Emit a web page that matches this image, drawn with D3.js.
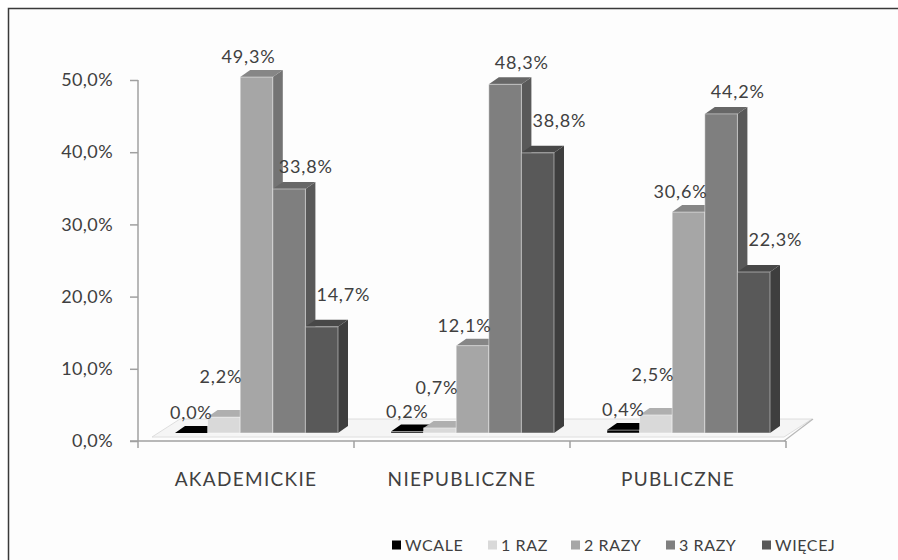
<!DOCTYPE html>
<html>
<head>
<meta charset="utf-8">
<title>3D column chart</title>
<script src="https://d3js.org/d3.v7.min.js"></script>
<style>
    body { margin: 0; background: #fff; }
    text { font-family: Lato, "Open Sans", sans-serif; fill: #404040; }
</style>
</head>
<body>
<div id="chart"></div>
<script>
    // Data
    const categories = ["AKADEMICKIE", "NIEPUBLICZNE", "PUBLICZNE"];
    const series = ["WCALE", "1 RAZ", "2 RAZY", "3 RAZY", "WIĘCEJ"];
    const wcale   = [0.0, 0.2, 0.4];
    const raz1    = [2.2, 0.7, 2.5];
    const razy2   = [49.3, 12.1, 30.6];
    const razy3   = [33.8, 48.3, 44.2];
    const wiecej  = [14.7, 38.8, 22.3];
    const yTicks  = [0, 10, 20, 30, 40, 50];

    const values = [wcale, raz1, razy2, razy3, wiecej];
    const colors = ["#000000", "#d9d9d9", "#a6a6a6", "#7f7f7f", "#595959"];

    const W = 898, H = 560;
    const depthX = 10, depthY = -7;   // 3D offset of top/side faces
    const lift = 8;                    // bars stand slightly behind the axis plane

    const svg = d3.select("#chart").append("svg")
        .attr("width", W).attr("height", H);

    // chart frame
    svg.append("rect")
        .attr("x", 8.5).attr("y", 8.5)
        .attr("width", 1000).attr("height", 1000)
        .attr("fill", "#fdfdfd")
        .attr("stroke", "#3a3a3a").attr("stroke-width", 1.5);

    // Scales
    const x0 = d3.scaleBand().domain(categories).range([138, 786]).padding(0);
    const x1 = d3.scaleBand().domain(series).range([37, 200]).padding(0);
    const y = d3.scaleLinear().domain([0, 50]).range([441, 80]);

    const fmt = v => d3.format(".1f")(v).replace(".", ",") + "%";

    // floor
    const fl = 437, fb = 419;
    svg.append("path")
        .attr("d", `M152,${fl} L784,${fl} L812,${fb} L180,${fb} Z`)
        .attr("fill", "#f5f5f5").attr("stroke", "#dedede").attr("stroke-width", 1);
    svg.append("line")
        .attr("x1", 784).attr("y1", y(0)).attr("x2", 813).attr("y2", fb)
        .attr("stroke", "#b8b8b8").attr("stroke-width", 1.2);

    // Y axis
    const yAxis = svg.append("g")
        .attr("transform", "translate(138,0)")
        .call(d3.axisLeft(y).tickValues(yTicks).tickSize(8).tickPadding(17).tickFormat(fmt));
    yAxis.select(".domain").attr("stroke", "#a0a0a0").attr("stroke-width", 1.5)
        .attr("d", `M0,${y(50)} V${y(0) + 7}`);
    yAxis.selectAll(".tick line").attr("stroke", "#a0a0a0").attr("stroke-width", 1.5);
    yAxis.selectAll(".tick text").style("font-size", "18px").style("letter-spacing", "0.4px").attr("fill", "#404040");

    // X axis
    const xAxis = svg.append("g").attr("transform", `translate(0,${y(0)})`);
    xAxis.append("line")
        .attr("x1", 130).attr("x2", 786)
        .attr("stroke", "#a0a0a0").attr("stroke-width", 1.5);
    xAxis.selectAll(".sep")
        .data(categories)
        .enter().append("line")
        .attr("x1", d => x0(d) + x0.bandwidth())
        .attr("x2", d => x0(d) + x0.bandwidth())
        .attr("y1", 0).attr("y2", 7)
        .attr("stroke", "#a0a0a0").attr("stroke-width", 1.5);
    xAxis.selectAll(".cat")
        .data(categories)
        .enter().append("text")
        .attr("x", d => x0(d) + x0.bandwidth() / 2)
        .attr("y", 45)
        .attr("text-anchor", "middle")
        .style("font-size", "19px")
        .style("letter-spacing", "1.3px")
        .text(d => d);

    // bars
    const bars = [];
    categories.forEach((c, ci) => {
        series.forEach((s, si) => {
            bars.push({ c, s, si, v: values[si][ci] });
        });
    });

    const g = svg.append("g");
    bars.forEach(b => {
        const bx = x0(b.c) + x1(b.s);
        const bw = x1.bandwidth();
        const yt = y(b.v) - lift;
        const yb = y(0) - lift;
        const col = d3.color(colors[b.si]);
        const top = b.si === 0 ? "#000" : col.darker(0.6);
        const side = b.si === 0 ? "#000" : col.darker(1.0);
        const bg = g.append("g");
        bg.append("path")
            .attr("d", `M${bx + bw},${yt} L${bx + bw + depthX},${yt + depthY} L${bx + bw + depthX},${yb + depthY} L${bx + bw},${yb} Z`)
            .attr("fill", side);
        bg.append("path")
            .attr("d", `M${bx},${yt} L${bx + depthX},${yt + depthY} L${bx + bw + depthX},${yt + depthY} L${bx + bw},${yt} Z`)
            .attr("fill", top);
        if (yb - yt > 0.5) {
            bg.append("rect")
                .attr("x", bx).attr("y", yt)
                .attr("width", bw).attr("height", yb - yt)
                .attr("fill", col)
                .attr("stroke", "rgba(255,255,255,0.45)").attr("stroke-width", 1);
        }
    });

    // data labels (placement per series, roughly like Excel's auto layout)
    function labelPos(b) {
        const bx = x0(b.c) + x1(b.s);
        const bw = x1.bandwidth();
        const yt = y(b.v) - lift;
        if (b.si === 0) return { x: bx + bw / 2, y: yt - 20, a: "middle" };
        if (b.si === 1) return { x: bx + bw + 2, y: yt - 40, a: "end" };
        if (b.si === 2) return { x: bx + bw / 2 - 8, y: yt - 20, a: "middle" };
        if (b.si === 3) return { x: bx + 6, y: yt - 22, a: "start" };
        return { x: bx + 11, y: yt - 32, a: "start" };
    }
    g.selectAll(".lbl")
        .data(bars)
        .enter().append("text")
        .attr("x", d => labelPos(d).x)
        .attr("y", d => labelPos(d).y)
        .attr("dy", "0.35em")
        .attr("text-anchor", d => labelPos(d).a)
        .style("font-size", "18px")
        .style("letter-spacing", "0.8px")
        .text(d => fmt(d.v));

    // legend
    const legX = [392, 488, 571, 666, 762];
    const leg = svg.append("g").attr("transform", "translate(0,545)");
    series.forEach((s, i) => {
        leg.append("rect")
            .attr("x", legX[i]).attr("y", -4.5)
            .attr("width", 9).attr("height", 9)
            .attr("fill", colors[i]);
        leg.append("text")
            .attr("x", legX[i] + 13).attr("y", 0)
            .attr("dy", "0.35em")
            .style("font-size", "16px")
            .style("letter-spacing", "0.6px")
            .text(s);
    });
</script>
</body>
</html>
